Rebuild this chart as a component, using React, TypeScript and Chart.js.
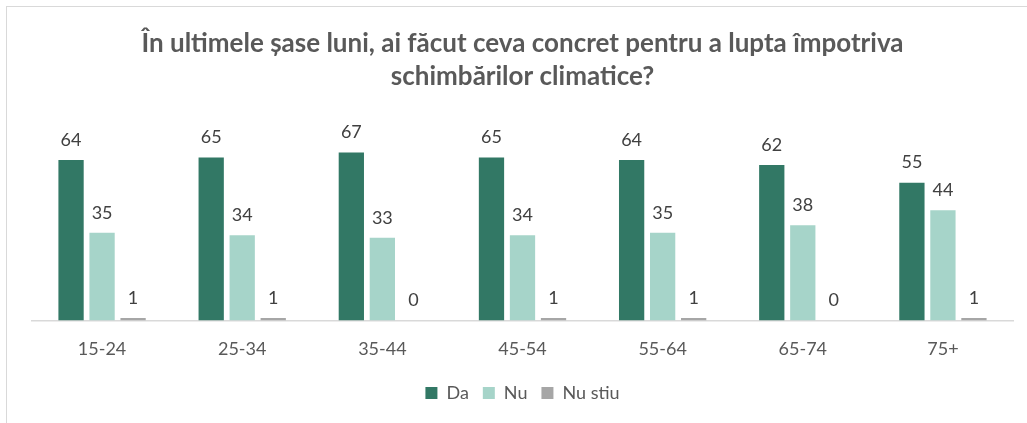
import React, { useEffect, useRef } from "react";
import { Chart, registerables } from "chart.js";

Chart.register(...registerables);

const categories = ["15-24", "25-34", "35-44", "45-54", "55-64", "65-74", "75+"];
const daValues = [64, 65, 67, 65, 64, 62, 55];
const nuValues = [35, 34, 33, 34, 35, 38, 44];
const nuStiuValues = [1, 1, 0, 1, 1, 0, 1];
const seriesNames = ["Da", "Nu", "Nu stiu"];
const titleLines = [
  "În ultimele șase luni, ai făcut ceva concret pentru a lupta împotriva",
  "schimbărilor climatice?",
];

const FONT = "Lato, 'Open Sans', sans-serif";

const valueLabels = {
  id: "valueLabels",
  afterDatasetsDraw(chart: any) {
    const ctx = chart.ctx;
    ctx.save();
    ctx.font = `18px ${FONT}`;
    ctx.fillStyle = "#404040";
    ctx.textAlign = "center";
    ctx.textBaseline = "middle";
    chart.data.datasets.forEach((ds: any, i: number) => {
      const meta = chart.getDatasetMeta(i);
      meta.data.forEach((el: any, j: number) => {
        ctx.fillText(String(ds.data[j]), el.x, el.y - 20);
      });
    });
    ctx.restore();
  },
};

export default function App() {
  const ref = useRef<HTMLCanvasElement>(null);
  useEffect(() => {
    if (!ref.current) return;
    const chart = new Chart(ref.current, {
      type: "bar",
      data: {
        labels: categories,
        datasets: [
          { label: seriesNames[0], data: daValues, backgroundColor: "#327865" },
          { label: seriesNames[1], data: nuValues, backgroundColor: "#a6d4c9" },
          { label: seriesNames[2], data: nuStiuValues, backgroundColor: "#a6a6a6" },
        ],
      },
      options: {
        animation: false,
        responsive: false,
        maintainAspectRatio: false,
        datasets: { bar: { categoryPercentage: 0.664, barPercentage: 0.815 } },
        layout: { padding: { left: 32, right: 14, top: 20, bottom: 11 } },
        plugins: {
          title: {
            display: true,
            text: titleLines,
            color: "#595959",
            font: { family: FONT, size: 26, weight: "bold", lineHeight: 1.27 },
            padding: { top: 7.5, bottom: 26.5 },
          },
          legend: {
            position: "bottom",
            labels: {
              color: "#595959",
              font: { family: FONT, size: 18 },
              boxWidth: 12,
              boxHeight: 12,
              padding: 14,
            },
          },
          tooltip: { enabled: false },
        },
        scales: {
          x: {
            grid: { display: false },
            border: { color: "#d9d9d9", width: 1.5 },
            ticks: { color: "#595959", font: { family: FONT, size: 18 }, padding: 10 },
          },
          y: {
            display: false,
            min: 0,
            max: 80,
          },
        },
      },
      plugins: [valueLabels],
    });
    return () => chart.destroy();
  }, []);
  return (
    <div style={{ position: "fixed", left: 0, top: 0, width: 1027, height: 423, background: "#fff" }}>
      <div
        style={{
          position: "absolute",
          left: 6,
          top: 6,
          right: 0,
          bottom: 0,
          borderTop: "1.5px solid #d9d9d9",
          borderLeft: "1.5px solid #d9d9d9",
        }}
      />
      <canvas ref={ref} width={1027} height={423} style={{ position: "absolute", left: 0, top: 0 }} />
    </div>
  );
}
